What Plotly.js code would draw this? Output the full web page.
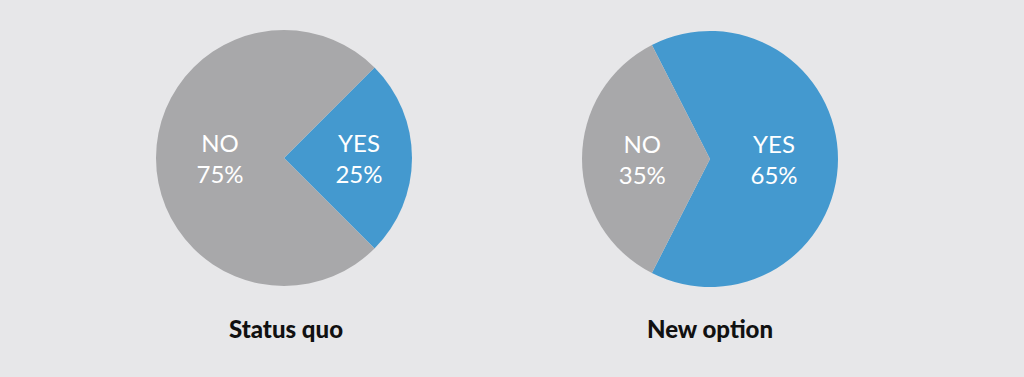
<!DOCTYPE html>
<html>
<head>
<meta charset="utf-8">
<script src="https://cdn.plot.ly/plotly-3.0.1.min.js"></script>
<style>html,body{margin:0;padding:0;background:#e7e7e9;}#chart{width:1024px;height:377px;}</style>
</head>
<body>
<div id="chart"></div>
<script>
// Data
var sliceLabels = ["YES", "NO"];
var statusQuoValues = [25, 75];
var newOptionValues = [65, 35];
var pieTitles = ["Status quo", "New option"];
var sliceColors = ["#4499cf", "#a8a8aa"];

// rotate so that the YES slice is centred on 3 o'clock
function rotFor(vals) {
  var total = vals.reduce(function (a, b) { return a + b; }, 0);
  return 90 - (vals[0] / total) * 360 / 2;
}

var common = {
  type: "pie",
  labels: sliceLabels,
  sort: false,
  direction: "clockwise",
  marker: { colors: sliceColors, line: { width: 0 } },
  texttemplate: "%{label}<br>%{value}%",
  textposition: "inside",
  insidetextorientation: "horizontal",
  insidetextfont: { color: "#ffffff", size: 24, family: "Lato, 'Open Sans', sans-serif" },
  hoverinfo: "none",
  showlegend: false
};

var trace1 = Object.assign({}, common, {
  values: statusQuoValues,
  rotation: rotFor(statusQuoValues),
  domain: { x: [156 / 1024, 412 / 1024], y: [91 / 377, 347 / 377] }
});
var trace2 = Object.assign({}, common, {
  values: newOptionValues,
  rotation: rotFor(newOptionValues),
  domain: { x: [582 / 1024, 838 / 1024], y: [90 / 377, 346 / 377] }
});

var titleFont = { family: "Lato, 'Open Sans', sans-serif", size: 24, weight: 900, color: "#111111" };
var layout = {
  width: 1024,
  height: 377,
  margin: { l: 0, r: 0, t: 0, b: 0 },
  paper_bgcolor: "#e7e7e9",
  plot_bgcolor: "#e7e7e9",
  annotations: [
    { text: pieTitles[0], xref: "paper", yref: "paper", x: 286 / 1024, y: 1 - 328 / 377,
      xanchor: "center", yanchor: "middle", showarrow: false, font: titleFont },
    { text: pieTitles[1], xref: "paper", yref: "paper", x: 710 / 1024, y: 1 - 328 / 377,
      xanchor: "center", yanchor: "middle", showarrow: false, font: titleFont }
  ]
};

Plotly.newPlot("chart", [trace1, trace2], layout, { displayModeBar: false, staticPlot: true });
</script>
</body>
</html>
